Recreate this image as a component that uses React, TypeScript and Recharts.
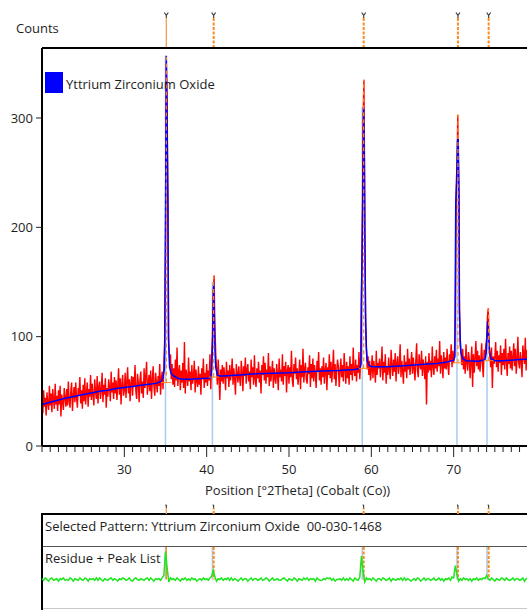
import { ComposedChart, Line, ReferenceLine, Scatter, XAxis, YAxis } from 'recharts';

const FONT = "'Open Sans', 'DejaVu Sans', sans-serif";
const TEXT = '#1e1e1e';
const ORANGE = '#ff8a1c';
const STICK = '#a9cbee';

// all panels share the same plot span in x
const CHART_W = 560;
const PLOT_LEFT = 42;
const PLOT_RIGHT = 24;

const thetaRange = [20, 80];
const countsMax = 364;
const yTicks = [0, 100, 200, 300];
const xLabels = [30, 40, 50, 60, 70];
const xTicks = Array.from({ length: 61 }, (_, i) => 20 + i);

// observed scan, 0.1° steps from 20.0 to 80.0 (one row per degree)
const obsStep = 0.1;
const obsCounts = [
  45, 30, 51, 36, 44, 28, 49, 39, 33, 55,
  37, 48, 31, 52, 42, 34, 57, 38, 46, 32,
  51, 38, 55, 27, 47, 41, 33, 53, 44, 36,
  52, 37, 59, 41, 35, 50, 58, 32, 46, 54,
  40, 58, 44, 35, 53, 47, 63, 39, 51, 34,
  56, 41, 62, 38, 49, 58, 36, 52, 45, 65,
  42, 57, 47, 37, 61, 50, 43, 64, 39, 54,
  59, 43, 51, 67, 40, 56, 47, 62, 35, 53,
  45, 61, 54, 41, 68, 49, 58, 43, 63, 48,
  60, 42, 55, 71, 47, 62, 38, 57, 65, 46,
  51, 67, 44, 59, 72, 48, 61, 41, 58, 64,
  46, 63, 55, 74, 50, 43, 66, 58, 40, 61,
  68, 48, 59, 44, 71, 53, 63, 77, 47, 57,
  65, 50, 69, 43, 60, 73, 54, 46, 67, 58,
  49, 64, 55, 75, 47, 62, 68, 52, 73, 95,
  180, 350, 316, 200, 95, 78, 84, 61, 75, 56,
  71, 54, 79, 60, 90, 55, 67, 74, 51, 69,
  58, 76, 53, 95, 48, 70, 63, 55, 81, 59,
  68, 51, 74, 57, 64, 78, 49, 70, 60, 54,
  73, 56, 66, 47, 71, 61, 80, 53, 67, 58,
  75, 55, 69, 60, 84, 52, 78, 100, 140, 156,
  110, 85, 70, 56, 79, 62, 42, 70, 59, 74,
  57, 72, 64, 51, 77, 62, 69, 54, 74, 60,
  67, 80, 56, 71, 61, 47, 75, 66, 58, 73,
  62, 55, 78, 68, 50, 73, 64, 81, 57, 70,
  75, 59, 68, 52, 79, 63, 72, 56, 83, 61,
  54, 71, 62, 77, 58, 69, 48, 74, 65, 82,
  60, 76, 57, 70, 63, 85, 55, 73, 59, 68,
  78, 53, 71, 62, 57, 75, 65, 51, 80, 63,
  70, 59, 84, 56, 73, 64, 77, 49, 69, 74,
  57, 72, 63, 87, 60, 54, 75, 66, 81, 61,
  71, 56, 67, 79, 52, 74, 63, 89, 58, 70,
  76, 61, 57, 72, 66, 83, 54, 75, 62, 80,
  59, 74, 65, 53, 78, 68, 86, 60, 71, 56,
  73, 63, 81, 57, 69, 76, 51, 72, 65, 84,
  62, 77, 58, 71, 88, 61, 75, 55, 69, 79,
  72, 54, 68, 80, 63, 74, 59, 85, 70, 57,
  77, 62, 73, 56, 82, 65, 75, 60, 90, 69,
  64, 79, 59, 74, 67, 86, 61, 78, 140, 190,
  300, 335, 233, 110, 88, 70, 82, 65, 78, 60,
  69, 83, 62, 78, 70, 58, 87, 65, 76, 71,
  80, 63, 74, 91, 60, 77, 67, 84, 57, 73,
  65, 81, 70, 61, 88, 75, 64, 79, 68, 85,
  59, 76, 82, 66, 74, 93, 63, 78, 69, 57,
  83, 68, 77, 62, 89, 70, 80, 65, 75, 86,
  66, 81, 71, 60, 78, 94, 69, 63, 84, 74,
  70, 87, 64, 79, 72, 61, 82, 38, 77, 67,
  85, 69, 78, 63, 91, 72, 65, 82, 71, 88,
  68, 80, 73, 96, 66, 83, 75, 62, 86, 71,
  81, 70, 89, 74, 65, 84, 77, 93, 72, 87,
  76, 85, 120, 225, 250, 303, 240, 130, 92, 84,
  74, 89, 70, 82, 66, 93, 76, 69, 86, 79,
  62, 77, 91, 54, 84, 67, 81, 96, 73, 87,
  70, 83, 68, 79, 94, 74, 63, 88, 80, 92,
  98, 118, 126, 95, 84, 72, 90, 53, 82, 75,
  81, 95, 72, 87, 68, 83, 76, 92, 65, 85,
  74, 89, 70, 98, 78, 64, 85, 75, 91, 71,
  87, 69, 82, 94, 73, 89, 66, 80, 100, 76,
  71, 86, 77, 63, 92, 84, 75, 99, 69, 88,
  82, 73, 104, 67, 86, 78, 97, 72, 89, 75,
  83,
];

// calculated profile
const calcTheta = [
  20, 21, 22, 23, 24, 25, 26, 27, 28, 29, 30, 31, 32, 33, 34, 34.5, 34.7, 34.85, 34.9,
  35.0, 35.1, 35.2, 35.3, 35.35, 35.5, 35.7, 36, 36.5, 37, 38, 39, 40, 40.5, 40.6,
  40.75, 40.85, 40.95, 41.0, 41.1, 41.3, 41.6, 42, 44, 46, 48, 50, 52, 54, 56, 58,
  58.6, 58.75, 58.8, 59.0, 59.07, 59.15, 59.2, 59.3, 59.4, 59.5, 59.7, 60, 62, 64,
  66, 68, 69, 70.0, 70.15, 70.25, 70.5, 70.55, 70.65, 70.7, 70.8, 70.9, 71.1, 71.5,
  73, 73.8, 73.95, 74.05, 74.15, 74.25, 74.35, 74.5, 75, 76, 78, 80,
];
const calcCounts = [
  38, 40, 42, 44, 45.5, 47, 48.5, 50, 51, 52.5, 53.5, 54.5, 55.5, 56.5, 57.5, 59.5, 63, 70, 91,
  200, 357, 290, 222, 100, 72, 66, 64, 62, 61, 61, 61.5, 62, 62.5, 70,
  103, 150, 110, 88, 72, 65, 64, 64, 65, 66, 66.5, 67, 68, 68.5, 69, 70,
  71, 75, 133, 250, 310, 260, 195, 120, 90, 78, 74, 72.5, 72.5, 73.5,
  74.5, 75.5, 76.5, 78.5, 82, 220, 280, 280, 233, 124, 97, 85, 80, 78,
  77.5, 79, 85, 100, 114, 100, 86, 80, 78, 78, 79, 79.5,
];

// residue trace, 0.2° steps from 20.0 to 80.0
const resStep = 0.2;
const residue = [
  1, -1, 2, 0, -2, 1, 2, -1, 0, 1, -2, 1, 0, 2, -1, 0, -1, 2, 1, -2,
  1, 0, -1, 2, 0, -1, 2, 1, -2, 1, 0, 1, -1, 2, -1, 2, 0, -2, 1, 0,
  -1, 1, 2, -1, 1, 0, -2, 1, 0, 2, 1, -1, 0, 2, -1, -2, 1, 2, 0, -1,
  1, 0, -1, 1, 2, -1, 2, 0, -2, 1, 0, 1, -1, 2, 5, 34, 14, -3, 2, 0,
  1, -1, 2, 0, -2, 1, 0, 2, -1, 1, -1, 2, 0, 1, -2, 0, 1, -1, 2, 0,
  1, -1, 2, 4, 11, 3, -2, 1, 0, 2, -1, 1, 0, 2, -1, 2, -1, 1, 0, -2,
  0, 2, -1, 1, 1, -2, 0, 2, -1, 1, 1, -1, 0, 2, -1, 0, 2, 1, -2, 0,
  2, -1, 0, 1, -1, -1, 1, 2, 0, -2, 1, 0, -1, 2, 1, -2, 1, 0, -1, 2,
  0, 2, -1, 1, 0, 1, -2, 2, 0, -1, -1, 1, 0, 2, 1, 2, -1, 1, -2, 0,
  0, 1, -1, 2, -1, 1, -1, 2, 0, -2, 2, 0, -1, 3, 29, 10, -3, 2, 0, 1,
  -1, 2, 0, -2, 1, 1, -1, 2, 1, -1, 0, 2, -2, 1, 0, -1, 1, 0, 2, -1,
  2, -1, 1, 0, -2, 0, 1, -1, 2, 1, -2, 0, 2, -1, 1, 1, -1, 0, 2, -1,
  0, 2, -1, 1, -2, 1, 0, 2, -1, 3, 2, 17, 6, -2, 1, -1, 2, 0, 1, -1,
  1, -2, 1, 0, 2, -1, 1, 0, 2, 1, 5, 1, -1, 2, 0, -2, 1, 0, -1, 2,
  1, -1, 2, 0, -1, 0, 2, -1, 1, 1, -1, 0, 2, -2, 1, 2, -1, 1, 0, -1,
  1,
];

// peak list and reference pattern
const peakPos = [35.1, 40.85, 59.07, 70.52, 74.25];
const peakBase = [58, 63, 71, 76, 78];
const peakTop = [356, 155, 335, 303, 125];
const refPos = [35.0, 40.7, 58.9, 70.4, 74.05];
const refTop = [357, 150, 310, 280, 114];

const obsRows = obsCounts.map((c, i) => ({ t: +(thetaRange[0] + i * obsStep).toFixed(2), c }));
const calcRows = calcTheta.map((t, i) => ({ t, c: calcCounts[i] }));
const resRows = residue.map((r, i) => ({ t: +(thetaRange[0] + i * resStep).toFixed(2), r }));
const markerRows = peakPos.map((t) => ({ t, v: 1 }));

const XTick = ({ x, y, payload }: any) => {
  const major = xLabels.includes(payload.value);
  return (
    <g>
      <line x1={x} x2={x} y1={y} y2={y + (major ? 11 : 6)} stroke="#222" />
      {major && (
        <text x={x} y={y + 28} textAnchor="middle" fill={TEXT} fontSize={13} fontFamily={FONT}>
          {payload.value}
        </text>
      )}
    </g>
  );
};

const TopGlyph = ({ cx, cy }: any) => (
  <path d={`M${cx - 2},${cy - 5.5} L${cx},${cy - 2.5} L${cx + 2},${cy - 5.5} M${cx},${cy - 2.5} L${cx},${cy}`} stroke="#444" strokeWidth={1.2} fill="none" />
);

const SmallGlyph = ({ cx, cy }: any) => (
  <path d={`M${cx},${cy - 3} L${cx},${cy} M${cx - 1},${cy - 3} L${cx},${cy - 3}`} stroke="#222" strokeWidth={1} fill="none" />
);

function PeakMarkers({ top, height, plotTop, glyph }: { top: number; height: number; plotTop: number; glyph: any }) {
  return (
    <div style={{ position: 'absolute', left: 0, top }}>
      <ComposedChart width={CHART_W} height={height} margin={{ top: plotTop, right: PLOT_RIGHT, bottom: 0, left: PLOT_LEFT }}>
        <XAxis type="number" dataKey="t" domain={thetaRange} hide />
        <YAxis type="number" dataKey="v" domain={[0, 1]} hide />
        {peakPos.map((p, i) => (
          <ReferenceLine
            key={p}
            x={p}
            stroke={i === 0 ? '#f6a04c' : ORANGE}
            strokeWidth={i === 0 ? 1.3 : 2}
            strokeDasharray={i === 0 ? undefined : '3 1.5'}
          />
        ))}
        <Scatter data={markerRows} isAnimationActive={false} shape={glyph} />
      </ComposedChart>
    </div>
  );
}

export default function App() {
  return (
    <div style={{ position: 'fixed', left: 0, top: 0, width: 527, height: 610, overflow: 'hidden', background: '#fff', fontFamily: FONT, color: TEXT, fontSize: 13, lineHeight: '18px' }}>
      <div style={{ position: 'absolute', left: 16, top: 19 }}>Counts</div>

      <PeakMarkers top={0} height={48} plotTop={18} glyph={TopGlyph} />

      <div style={{ position: 'absolute', left: 0, top: 0 }}>
        <ComposedChart width={CHART_W} height={501} margin={{ top: 48, right: PLOT_RIGHT, bottom: 0, left: 0 }}>
          <XAxis
            type="number"
            dataKey="t"
            domain={thetaRange}
            ticks={xTicks}
            interval={0}
            tick={(p: any) => <XTick {...p} />}
            tickLine={false}
            tickSize={0}
            tickMargin={0}
            height={55}
            axisLine={{ stroke: '#000', strokeWidth: 2 }}
          />
          <YAxis
            type="number"
            domain={[0, countsMax]}
            ticks={yTicks}
            width={42}
            tickSize={6}
            tickMargin={3}
            axisLine={{ stroke: '#000', strokeWidth: 2 }}
            tickLine={{ stroke: '#222' }}
            tick={{ fill: TEXT, fontSize: 13, fontFamily: FONT }}
          />
          <ReferenceLine y={countsMax} stroke="#000" strokeWidth={2} />
          {refPos.map((p, i) => (
            <ReferenceLine key={p} segment={[{ x: p, y: 0 }, { x: p, y: refTop[i] }]} stroke={STICK} strokeWidth={1.5} />
          ))}
          <Line data={obsRows} dataKey="c" stroke="#ff0000" strokeWidth={1.4} dot={false} isAnimationActive={false} />
          <Line data={calcRows} dataKey="c" stroke="#0000ff" strokeWidth={1.5} dot={false} isAnimationActive={false} />
          {peakPos.map((p, i) => (
            <ReferenceLine key={`s${p}`} segment={[{ x: p, y: peakBase[i] }, { x: p, y: peakTop[i] }]} stroke={ORANGE} strokeWidth={1.2} strokeDasharray="4 3" />
          ))}
          {peakPos.map((p, i) => (
            <ReferenceLine key={`b${p}`} segment={[{ x: p - 0.6, y: peakBase[i] }, { x: p + 0.6, y: peakBase[i] }]} stroke={ORANGE} strokeWidth={1} />
          ))}
        </ComposedChart>
      </div>

      <div style={{ position: 'absolute', left: 45, top: 72, width: 18, height: 21, background: '#0000ff' }} />
      <div style={{ position: 'absolute', left: 66, top: 75 }}>Yttrium Zirconium Oxide</div>
      <div style={{ position: 'absolute', left: 205, top: 481 }}>Position [°2Theta] (Cobalt (Co))</div>

      {/* lower panel */}
      <div style={{ position: 'absolute', left: 41, top: 513, width: 520, height: 100, borderTop: '2px solid #000', borderLeft: '2px solid #000', boxSizing: 'border-box' }} />
      <div style={{ position: 'absolute', left: 43, top: 546, width: 500, height: 1, background: '#555' }} />
      <div style={{ position: 'absolute', left: 43, top: 608, width: 500, height: 1, background: '#c8c8c8' }} />
      <div style={{ position: 'absolute', left: 45, top: 517, whiteSpace: 'pre' }}>Selected Pattern: Yttrium Zirconium Oxide  00-030-1468</div>
      <div style={{ position: 'absolute', left: 45, top: 549 }}>Residue + Peak List</div>

      <PeakMarkers top={500} height={14} plotTop={8} glyph={SmallGlyph} />

      <div style={{ position: 'absolute', left: 0, top: 515 }}>
        <ComposedChart width={CHART_W} height={31} margin={{ top: 0, right: PLOT_RIGHT, bottom: 0, left: PLOT_LEFT }}>
          <XAxis type="number" dataKey="t" domain={thetaRange} hide />
          <YAxis type="number" domain={[0, 1]} hide />
          {refPos.map((p) => (
            <ReferenceLine key={p} x={p} stroke={STICK} strokeWidth={1.5} />
          ))}
        </ComposedChart>
      </div>

      <div style={{ position: 'absolute', left: 0, top: 547 }}>
        <ComposedChart width={CHART_W} height={61} margin={{ top: 0, right: PLOT_RIGHT, bottom: 0, left: PLOT_LEFT }}>
          <XAxis type="number" dataKey="t" domain={thetaRange} hide />
          <YAxis type="number" domain={[-35, 40]} hide />
          {refPos.map((p) => (
            <ReferenceLine key={p} segment={[{ x: p, y: 40 }, { x: p, y: 0 }]} stroke={STICK} strokeWidth={1.5} />
          ))}
          {peakPos.map((p, i) => (
            <ReferenceLine
              key={`o${p}`}
              segment={[{ x: p, y: 40 }, { x: p, y: 0 }]}
              stroke={ORANGE}
              strokeWidth={i === 0 ? 1.3 : 2}
              strokeDasharray={i === 0 ? undefined : '3 1.5'}
            />
          ))}
          <Line data={resRows} dataKey="r" stroke="#1ee61e" strokeWidth={1.5} dot={false} isAnimationActive={false} />
        </ComposedChart>
      </div>
    </div>
  );
}
